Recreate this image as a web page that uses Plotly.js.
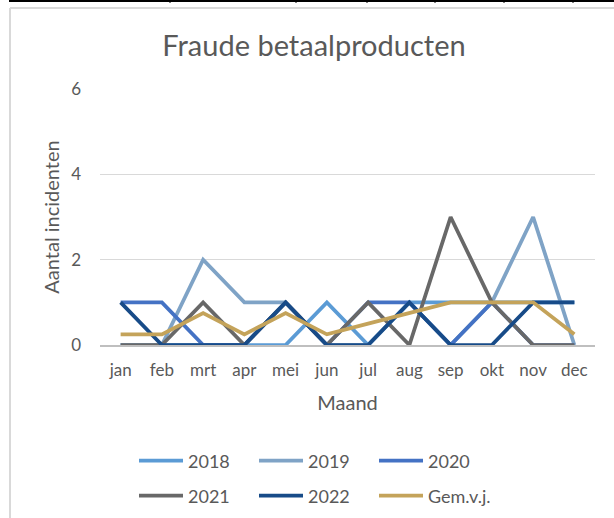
<!DOCTYPE html>
<html>
<head>
<meta charset="utf-8">
<script src="https://cdn.plot.ly/plotly-3.0.1.min.js"></script>
<style>html,body{margin:0;padding:0;background:#fff}#chart{width:614px;height:518px}</style>
</head>
<body>
<div id="chart"></div>
<script>
// ---- data ----
const months = ["jan","feb","mrt","apr","mei","jun","jul","aug","sep","okt","nov","dec"];
const y2018 = [0,0,0,0,0,1,0,1,1,1,1,1];
const y2019 = [0,0,2,1,1,0,0,1,0,1,3,0];
const y2020 = [1,1,0,0,1,0,1,1,0,1,0,0];
const y2021 = [0,0,1,0,1,0,1,0,3,1,0,0];
const y2022 = [1,0,0,0,1,0,0,1,0,0,1,1];
const gemVJ = [0.25,0.25,0.75,0.25,0.75,0.25,0.5,0.75,1,1,1,0.25];
const seriesNames = ["2018","2019","2020","2021","2022","Gem.v.j."];

// ---- styling ----
const W = 614, H = 518;
const M = {l:100, r:19, t:89, b:173};
const pw = W - M.l - M.r, ph = H - M.t - M.b;
const px = x => (x - M.l) / pw;
const py = y => (H - M.b - y) / ph;
const cy = y => 1 - y / H;
const FONT = "Lato, 'Open Sans', sans-serif";
const TXT = "#595959";
const colors = ["#5B9BD5","#7FA3C6","#4472C4","#686868","#174B88","#C4A35A"];
const allY = [y2018,y2019,y2020,y2021,y2022,gemVJ];

const traces = allY.map((ys,i) => ({
  type:"scatter", mode:"lines", x: months, y: ys, name: seriesNames[i],
  line:{color:colors[i], width:3.75},
  legend: i < 3 ? "legend" : "legend2",
  hoverinfo:"skip"
}));

const legendBase = {
  orientation:"h", xanchor:"left", yanchor:"middle", xref:"paper", yref:"container",
  x: px(134), entrywidth: 61, itemwidth: 44,
  font:{family:FONT, size:18, color:TXT}, bgcolor:"rgba(0,0,0,0)"
};

const shapes = [
  {type:"line", xref:"paper", yref:"paper", x0:px(10), x1:px(614), y0:py(8), y1:py(8), line:{color:"#D9D9D9", width:2}},
  {type:"line", xref:"paper", yref:"paper", x0:px(10), x1:px(10), y0:py(8), y1:py(518), line:{color:"#D9D9D9", width:2}},
  {type:"line", xref:"paper", yref:"paper", x0:px(9), x1:px(614), y0:py(1), y1:py(1), line:{color:"#000", width:2}},
];
[170,296,367,435,504,573].forEach(xv => shapes.push(
  {type:"line", xref:"paper", yref:"paper", x0:px(xv), x1:px(xv), y0:py(0), y1:py(3), line:{color:"#000", width:1}}
));

const layout = {
  width:W, height:H, margin:M,
  paper_bgcolor:"#fff", plot_bgcolor:"#fff",
  font:{family:FONT, color:TXT},
  title:{text:"Fraude betaalproducten", font:{family:FONT, size:29, color:TXT},
         x:314/W, xref:"container", xanchor:"center", y:cy(46), yanchor:"middle"},
  xaxis:{type:"category", categoryorder:"array", categoryarray:months, range:[-0.5,11.5],
         showline:true, linecolor:"#BFBFBF", linewidth:1.5, showgrid:false, zeroline:false,
         ticks:"", tickfont:{family:FONT, size:17, color:TXT}, ticklabelstandoff:9,
         title:{text:"Maand", font:{family:FONT, size:20, color:TXT}, standoff:17}, fixedrange:true},
  yaxis:{range:[0,6], dtick:2, tick0:0, showgrid:true, gridcolor:"#D9D9D9", gridwidth:1,
         zeroline:false, showline:false, ticks:"", tickfont:{family:FONT, size:17, color:TXT},
         ticklabelstandoff:18,
         title:{text:"Aantal incidenten", font:{family:FONT, size:20, color:TXT}, standoff:6}, fixedrange:true},
  legend:Object.assign({}, legendBase, {y: cy(461)}),
  legend2:Object.assign({}, legendBase, {y: cy(496)}),
  shapes:shapes,
  showlegend:true
};

Plotly.newPlot("chart", traces, layout, {displayModeBar:false, staticPlot:true});
</script>
</body>
</html>
